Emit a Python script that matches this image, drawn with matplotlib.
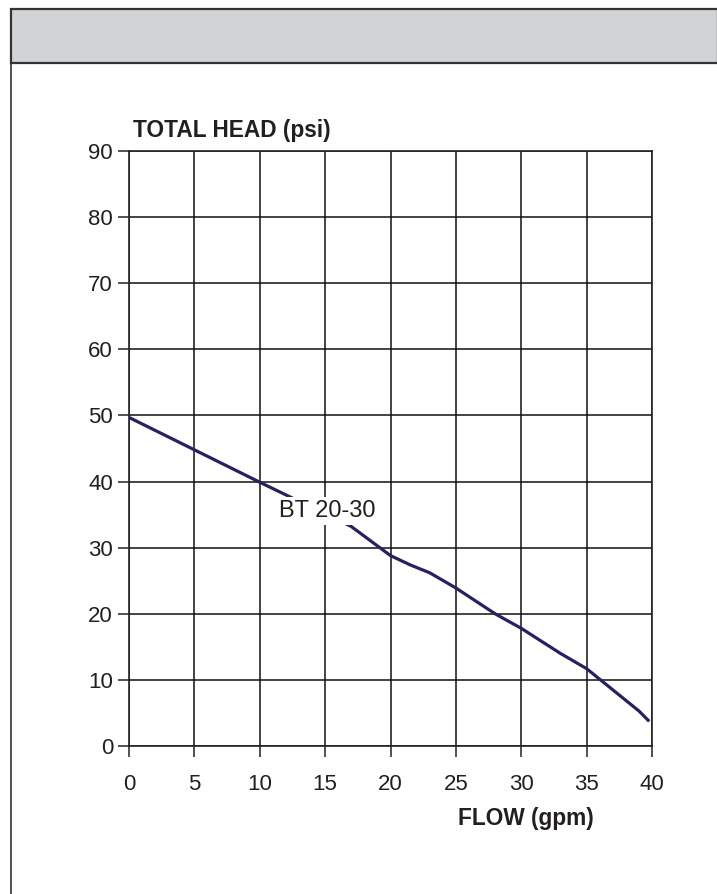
import matplotlib
matplotlib.use('Agg')
import matplotlib.pyplot as plt
from matplotlib.patches import Rectangle

plt.rcParams['font.family'] = ['Liberation Sans', 'DejaVu Sans']

# BT 20-30 pump curve
flow_gpm = [0, 5, 10, 12.5, 15, 17, 18.5, 20, 21.5, 23, 25, 28, 30, 33, 35, 37, 39, 39.7]
head_psi = [49.7, 44.8, 39.9, 37.5, 35.2, 33.2, 31.0, 28.8, 27.4, 26.2, 23.9, 20.0, 17.8, 14.0, 11.7, 8.5, 5.3, 3.9]

x_ticks = [0, 5, 10, 15, 20, 25, 30, 35, 40]
y_ticks = [0, 10, 20, 30, 40, 50, 60, 70, 80, 90]

W, H = 717, 894
fig = plt.figure(figsize=(W / 100, H / 100), dpi=100)

# outer frame + grey header band
fig.patches.append(Rectangle((10.5 / W, -0.05), (W - 10) / W, 1.05 - 9.5 / H, transform=fig.transFigure,
                             facecolor='none', edgecolor='#333333', linewidth=1.2, zorder=0))
fig.patches.append(Rectangle((10.5 / W, 1 - 63 / H), (W - 10) / W, 53.5 / H, transform=fig.transFigure,
                             facecolor='#d1d3d4', edgecolor='#333333', linewidth=1.6, zorder=0))

ax = fig.add_axes([129 / W, 1 - 746 / H, (652 - 129) / W, (746 - 151) / H])
ax.set_zorder(2)
ax.set_facecolor('none')
ax.plot(flow_gpm, head_psi, color='#262262', linewidth=2.3, zorder=3)

ax.set_xlim(0, 40)
ax.set_ylim(0, 90)
ax.set_xticks(x_ticks)
ax.set_yticks(y_ticks)
ax.grid(True, color='#111111', linewidth=1.1)
for s in ax.spines.values():
    s.set_color('#222222')
    s.set_linewidth(1.2)
ax.tick_params(direction='out', length=8, width=1.1, color='#222222',
               labelsize=16, labelcolor='#231f20')
ax.tick_params(axis='y', pad=3.5)
ax.tick_params(axis='x', pad=12)

ax.text(15.2, 35.5, 'BT 20-30', fontsize=17, color='#231f20', ha='center', va='center', zorder=4,
        bbox=dict(facecolor='white', edgecolor='none', pad=2))

fig.text(133 / W, 1 - 131 / H, 'TOTAL HEAD (psi)', fontsize=16.3, fontweight='bold',
         color='#231f20', ha='left', va='center')
fig.text(526 / W, 1 - 819 / H, 'FLOW (gpm)', fontsize=16.3, fontweight='bold',
         color='#231f20', ha='center', va='center')

fig.savefig('out.png', dpi=100)
